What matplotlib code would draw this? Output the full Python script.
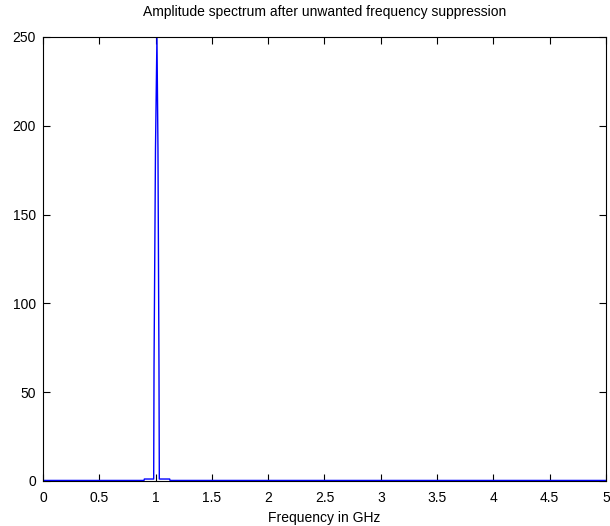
import matplotlib
matplotlib.use("Agg")
import matplotlib.pyplot as plt

plt.rcParams['font.family'] = ['Liberation Sans', 'DejaVu Sans']

# Frequency (GHz) and amplitude samples
freq = [0.0, 0.897, 0.900, 0.983, 0.986, 0.999, 1.012, 1.021, 1.030, 1.033, 1.125, 1.128, 5.0]
amp = [0.3, 0.3, 1.1, 1.1, 64, 187, 250, 187, 64, 1.1, 1.1, 0.3, 0.3]

xticks = [0, 0.5, 1, 1.5, 2, 2.5, 3, 3.5, 4, 4.5, 5]
xtick_labels = ['0', '0.5', '1', '1.5', '2', '2.5', '3', '3.5', '4', '4.5', '5']
yticks = [0, 50, 100, 150, 200, 250]

fig = plt.figure(figsize=(6.10, 5.26), dpi=100)
ax = fig.add_axes([0.0705, 0.0856, 0.9229, 0.8441])
ax.plot(freq, amp, color=(0, 0, 1), linewidth=1.0)
ax.set_xlim(0, 5)
ax.set_ylim(0, 250)
ax.set_xticks(xticks)
ax.set_xticklabels(xtick_labels)
ax.set_yticks(yticks)
ax.tick_params(direction='in', length=5, width=0.8, top=True, right=True,
               labelsize=10)
ax.tick_params(axis='x', pad=7)
ax.tick_params(axis='y', pad=5)
for s in ax.spines.values():
    s.set_linewidth(0.8)
ax.set_title('Amplitude spectrum after unwanted frequency suppression',
             fontsize=10, pad=15)
ax.set_xlabel('Frequency in GHz', fontsize=10, labelpad=4.5)
fig.savefig('out.png', dpi=100)
